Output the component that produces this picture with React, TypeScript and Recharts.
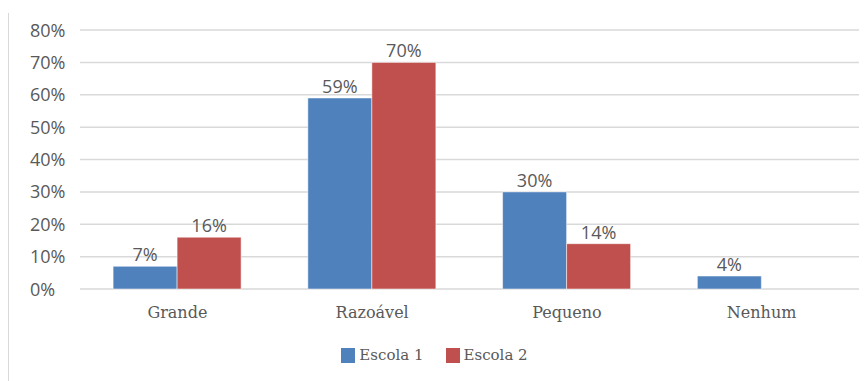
import { BarChart, Bar, XAxis, YAxis, CartesianGrid, Legend, LabelList } from "recharts";

const categories = ["Grande", "Razoável", "Pequeno", "Nenhum"];
const escola1 = [7, 59, 30, 4];
const escola2 = [16, 70, 14, null];
const yTicks = [0, 10, 20, 30, 40, 50, 60, 70, 80];

const BLUE = "#4F81BD";
const RED = "#C0504D";
const TEXT = "#595959";
const SANS = "'Open Sans', 'Noto Sans', sans-serif";
const SERIF = "'DejaVu Serif', serif";

const data = categories.map((name, i) => ({ name, e1: escola1[i], e2: escola2[i] }));

const pct = (v: any) => (v === null || v === undefined ? "" : `${v}%`);

function YTick({ y, payload }: any) {
  return (
    <text x={30} y={y} dy={6.5} textAnchor="start" fill={TEXT} fontSize={18} fontFamily={SANS}>
      {payload.value}%
    </text>
  );
}

function LegendBox() {
  const items = [
    { label: "Escola 1", color: BLUE },
    { label: "Escola 2", color: RED },
  ];
  return (
    <div style={{ display: "flex", justifyContent: "center", gap: 22, paddingLeft: 10, height: 20, alignItems: "center" }}>
      {items.map((it) => (
        <div key={it.label} style={{ display: "flex", alignItems: "center", gap: 4 }}>
          <span style={{ width: 14, height: 15, background: it.color, display: "inline-block" }} />
          <span style={{ fontFamily: SERIF, fontSize: 15, color: TEXT, lineHeight: "20px" }}>{it.label}</span>
        </div>
      ))}
    </div>
  );
}

export default function App() {
  return (
    <div style={{ position: "absolute", left: 0, top: 0, width: 866, height: 381, background: "#fff" }}>
      <div style={{ position: "absolute", left: 8, top: 13, width: 1, height: 368, background: "#d9d9d9" }} />
      <BarChart
        width={866}
        height={381}
        data={data}
        margin={{ top: 30, right: 7, bottom: 16, left: 0 }}
        barCategoryGap="17%"
        barGap={0}
      >
        <CartesianGrid vertical={false} stroke="#d9d9d9" strokeWidth={1.5} />
        <XAxis
          dataKey="name"
          axisLine={false}
          tickLine={false}
          tickSize={0}
          tickMargin={18}
          height={56}
          tick={{ fill: TEXT, fontSize: 16, fontFamily: SERIF }}
        />
        <YAxis
          width={80}
          domain={[0, 80]}
          ticks={yTicks}
          axisLine={false}
          tickLine={false}
          tick={<YTick />}
        />
        <Legend verticalAlign="bottom" content={<LegendBox />} />
        <Bar dataKey="e1" name="Escola 1" fill={BLUE} stroke="#ffffff" strokeOpacity={0.5} isAnimationActive={false}>
          <LabelList dataKey="e1" position="top" formatter={pct} fill={TEXT} fontSize={18} fontFamily={SANS} />
        </Bar>
        <Bar dataKey="e2" name="Escola 2" fill={RED} stroke="#ffffff" strokeOpacity={0.5} isAnimationActive={false}>
          <LabelList dataKey="e2" position="top" formatter={pct} fill={TEXT} fontSize={18} fontFamily={SANS} />
        </Bar>
      </BarChart>
    </div>
  );
}
